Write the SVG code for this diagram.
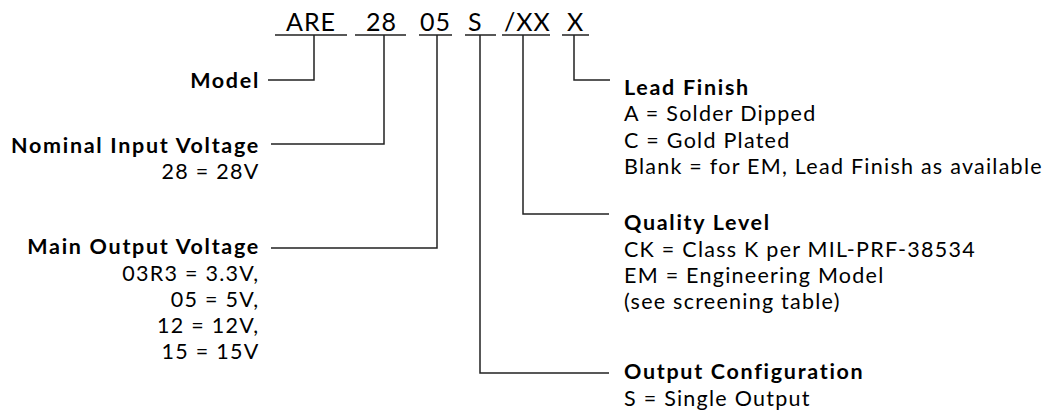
<svg xmlns="http://www.w3.org/2000/svg" width="1050" height="415" viewBox="0 0 1050 415">
<style>
text{font-family:Lato,"Open Sans","Liberation Sans",sans-serif;font-size:21.5px;letter-spacing:1.25px;fill:#000}
.b{font-weight:bold;letter-spacing:1.7px}
.r{text-anchor:end}
.code{font-size:25px;letter-spacing:1px}
.ln{fill:none;stroke:#222;stroke-width:1.5}
</style>
<rect width="1050" height="415" fill="#fff"/>
<g id="code">
<text class="code" x="286" y="31">ARE</text>
<text class="code" x="366" y="31">28</text>
<text class="code" x="420" y="31">05</text>
<text class="code" x="468" y="31">S</text>
<text class="code" x="504" y="31">/XX</text>
<text class="code" x="567" y="31">X</text>
</g>
<g id="connectors">
<path class="ln" d="M275 35H347M355 35H406M419 35H452M465 35H496M502 35H550M562 35H589"/>
<path class="ln" d="M314 35V80H268"/>
<path class="ln" d="M384 35V144H271"/>
<path class="ln" d="M437 35V248H271"/>
<path class="ln" d="M480 35V373H609"/>
<path class="ln" d="M523 35V214H609"/>
<path class="ln" d="M574 35V80H610"/>
</g>
<g id="model">
<text class="b r" x="260" y="88">Model</text>
</g>
<g id="nominal-input">
<text class="b r" x="260" y="153">Nominal Input Voltage</text>
<text class="r" x="259.5" y="179">28 = 28V</text>
</g>
<g id="main-output">
<text class="b r" x="260" y="254">Main Output Voltage</text>
<text class="r" x="259.5" y="281">03R3 = 3.3V,</text>
<text class="r" x="259.5" y="307">05 = 5V,</text>
<text class="r" x="259.5" y="333">12 = 12V,</text>
<text class="r" x="259.5" y="359">15 = 15V</text>
</g>
<g id="lead-finish">
<text class="b" x="624" y="95">Lead Finish</text>
<text x="624" y="121">A = Solder Dipped</text>
<text x="624" y="148">C = Gold Plated</text>
<text x="624" y="174">Blank = for EM, Lead Finish as available</text>
</g>
<g id="quality-level">
<text class="b" x="624" y="230">Quality Level</text>
<text x="624" y="257">CK = Class K per MIL-PRF-38534</text>
<text x="624" y="283">EM = Engineering Model</text>
<text x="624" y="309">(see screening table)</text>
</g>
<g id="output-config">
<text class="b" x="624" y="379">Output Configuration</text>
<text x="624" y="406">S = Single Output</text>
</g>
</svg>
